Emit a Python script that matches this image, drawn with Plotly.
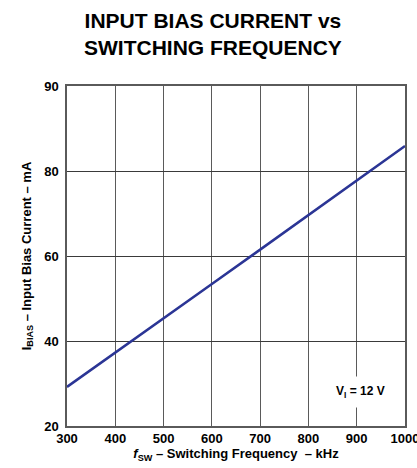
import plotly.graph_objects as go

freq_khz = [300, 400, 500, 600, 700, 800, 900, 1000]
bias_ma = [29.2, 37.2, 45.3, 53.4, 61.5, 69.6, 77.7, 85.9]
x_ticks = [300, 400, 500, 600, 700, 800, 900, 1000]
y_ticks = [20, 40, 60, 80, 100]
y_tick_text = ["20", "40", "60", "80", "90"]

FONT = "Liberation Sans, Arial, sans-serif"
H, T, B = 468, 86, 42
fig = go.Figure()
fig.add_trace(go.Scatter(x=freq_khz, y=bias_ma, mode="lines",
                         line=dict(color="#2B3595", width=2.5), showlegend=False))

fig.update_layout(
    width=417, height=H,
    margin=dict(l=67, r=12, t=T, b=B, autoexpand=False),
    paper_bgcolor="white", plot_bgcolor="white",
    font=dict(family=FONT, color="black"),
    xaxis=dict(range=[300, 1000], tickvals=x_ticks, showgrid=True, automargin=False,
               ticklabeloverflow="allow",
               gridcolor="#5a5a5a", gridwidth=1.3, showline=True, linecolor="#5a5a5a",
               linewidth=1.5, mirror=True, zeroline=False, ticks="",
               tickfont=dict(size=13, family=FONT, weight="bold"),
               title=dict(text="<i>f</i><sub>SW</sub> – Switching Frequency  – kHz",
                          font=dict(size=13, family=FONT, weight="bold"), standoff=4)),
    yaxis=dict(range=[20, 100], tickvals=y_ticks, ticktext=y_tick_text, showgrid=True,
               automargin=False, ticklabeloverflow="allow",
               gridcolor="#3a3a3a", gridwidth=1.3, showline=True, linecolor="#5a5a5a",
               linewidth=1.5, mirror=True, zeroline=False, ticks="outside", ticklen=4,
               tickcolor="white",
               tickfont=dict(size=13, family=FONT, weight="bold"),
               title=dict(text="I<sub>BIAS</sub> – Input Bias Current – mA",
                          font=dict(size=13, family=FONT, weight="bold"), standoff=10)),
    annotations=[
        dict(text="INPUT BIAS CURRENT vs<br>SWITCHING FREQUENCY", x=0.432,
             y=(H - B - 7) / (H - T - B),
             xref="paper", yref="paper", yanchor="top", xanchor="center",
             showarrow=False, font=dict(size=21, family=FONT, weight="bold")),
        dict(text="V<sub>I</sub> = 12 V", x=907, y=28.0, xref="x", yref="y",
             showarrow=False, bgcolor="white", borderpad=7,
             font=dict(size=12, family=FONT, weight="bold")),
    ],
)
fig.write_html("out.html", config={"displayModeBar": False},
               post_script="document.body.style.margin='0';document.body.style.overflow='hidden';")
